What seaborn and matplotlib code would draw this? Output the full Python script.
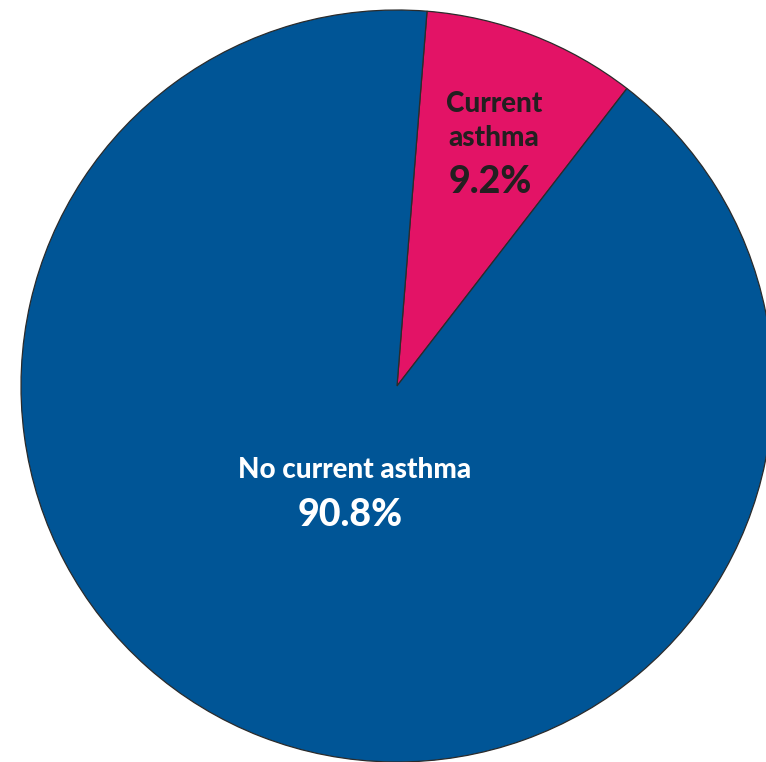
import matplotlib
matplotlib.use("Agg")
import matplotlib.pyplot as plt
import seaborn as sns

# Asthma status share
categories = ["Current asthma", "No current asthma"]
shares = [9.2, 90.8]
value_labels = ["9.2%", "90.8%"]

sns.set_theme(style="white")
plt.rcParams["font.family"] = ["Lato", "DejaVu Sans"]

colors = ["#E31366", "#005596"]
text_colors = ["#231F20", "#FFFFFF"]

W, H = 766, 762
fig = plt.figure(figsize=(W / 100, H / 100), dpi=100)
ax = fig.add_axes([0, 0, 1, 1])

R_PX = 376.0
CX, CY = 397.0, 386.0  # pie centre in pixels from top-left

wedges, _ = ax.pie(
    shares,
    colors=colors,
    startangle=52.3,
    counterclock=True,
    radius=1.0,
    wedgeprops=dict(edgecolor="#2b2b2b", linewidth=0.9),
)

ax.set_xlim(-CX / R_PX, (W - CX) / R_PX)
ax.set_ylim(-(H - CY) / R_PX, CY / R_PX)
ax.set_aspect("equal")
ax.axis("off")


def px(x, y):
    return (x - CX) / R_PX, (CY - y) / R_PX


WEIGHT = 900

# Current asthma label
ax.text(*px(494, 104), "Current", ha="center", va="center",
        fontsize=20, fontweight=WEIGHT, color=text_colors[0])
ax.text(*px(494, 138), "asthma", ha="center", va="center",
        fontsize=20, fontweight=WEIGHT, color=text_colors[0])
ax.text(*px(490, 182), value_labels[0], ha="center", va="center",
        fontsize=27, fontweight=WEIGHT, color=text_colors[0])

# No current asthma label
ax.text(*px(355, 470), categories[1], ha="center", va="center",
        fontsize=20, fontweight=WEIGHT, color=text_colors[1])
ax.text(*px(350, 515), value_labels[1], ha="center", va="center",
        fontsize=27, fontweight=WEIGHT, color=text_colors[1])

fig.savefig("out.png", dpi=100)
